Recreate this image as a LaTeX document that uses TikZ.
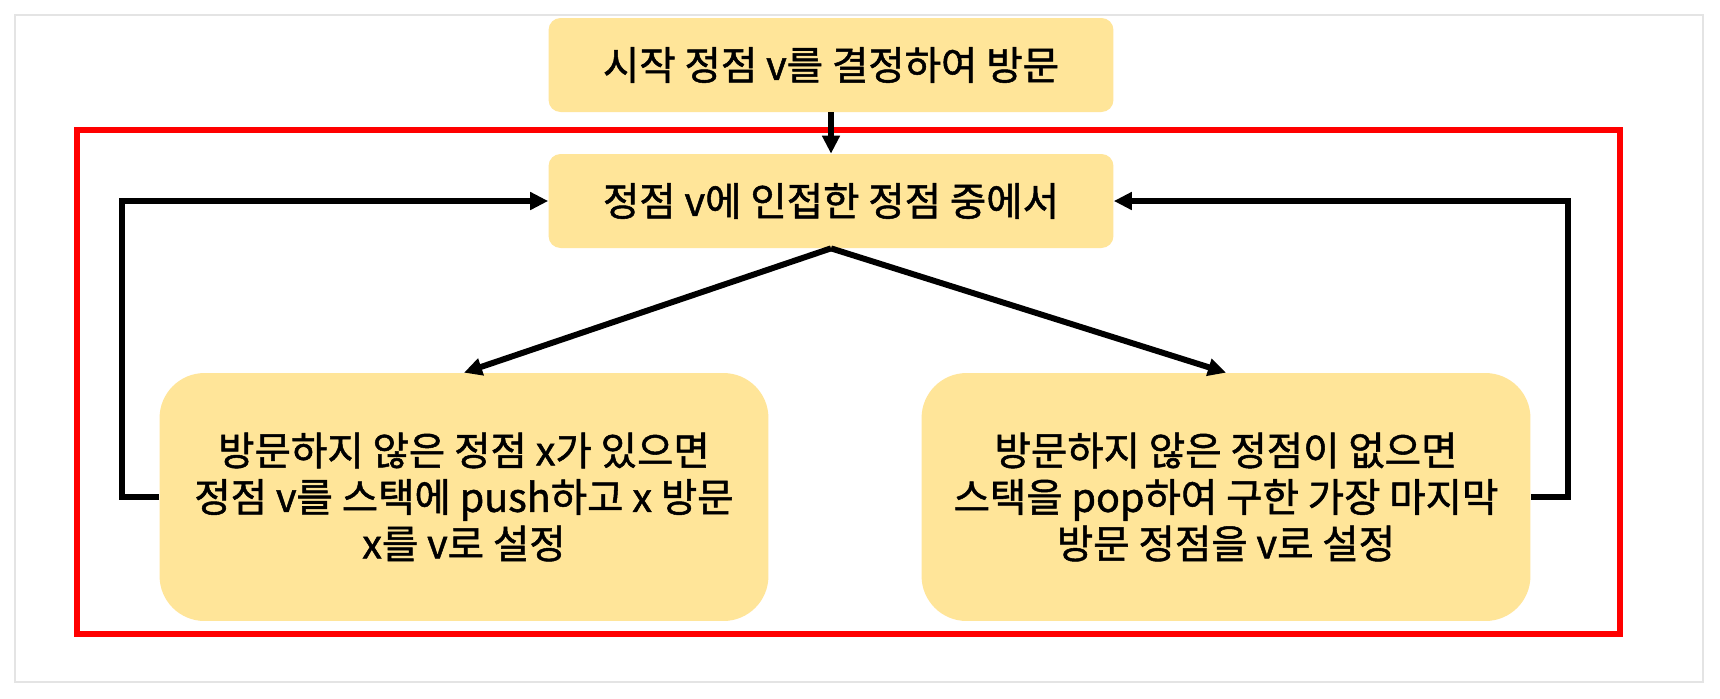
\documentclass[tikz,border=0pt]{standalone}
\usepackage{fontspec}
\setmainfont{Noto Sans CJK KR}[FakeBold=1.3]
\usetikzlibrary{arrows.meta,positioning}
\definecolor{StepYellow}{HTML}{FFE599}
\definecolor{LoopRed}{HTML}{FF0000}
\definecolor{CardEdge}{HTML}{E4E4E4}
\tikzset{
  flowarrow/.style={-{Triangle[length=3.6mm,width=3.4mm]},line width=3.4pt,draw=black},
  loopframe/.style={draw=LoopRed,line width=3.4pt},
  card/.style={draw=CardEdge,line width=1.2pt,fill=white},
  stepbox/.style={fill=StepYellow,rounded corners=2.4mm,align=center,minimum width=11.3cm,minimum height=1.88cm,inner sep=0pt,font=\fontsize{22.5}{26}\selectfont},
  casebox/.style={fill=StepYellow,rounded corners=9mm,align=center,minimum width=12.18cm,minimum height=4.96cm,inner sep=0pt,font=\fontsize{22.5}{26.5}\selectfont}
}

\begin{document}
\begin{tikzpicture}[x=0.02cm,y=-0.02cm]
  \useasboundingbox (0,0) rectangle (1720,698);
  \draw[card] (15,15) rectangle (1703,682);
  \draw[loopframe] (77,130) rectangle (1620,634);

  \node[stepbox] (start) at (831,65) {시작 정점 v를 결정하여 방문};
  \node[stepbox] (adjacent) at (831,201) {정점 v에 인접한 정점 중에서};
  \node[casebox] (unvisited) at (464,497)
    {방문하지 않은 정점 x가 있으면\\정점 v를 스택에 push하고 x 방문\\x를 v로 설정};
  \node[casebox] (backtrack) at (1226,497)
    {방문하지 않은 정점이 없으면\\스택을 pop하여 구한 가장 마지막\\방문 정점을 v로 설정};

  \draw[flowarrow] (start) -- (adjacent);
  \draw[flowarrow] (adjacent.south) -- (unvisited.north);
  \draw[flowarrow] (adjacent.south) -- (backtrack.north);
  \draw[flowarrow] (unvisited.west) -- ++(-37,0) |- (adjacent.west);
  \draw[flowarrow] (backtrack.east) -- ++(37,0) |- (adjacent.east);
\end{tikzpicture}
\end{document}
